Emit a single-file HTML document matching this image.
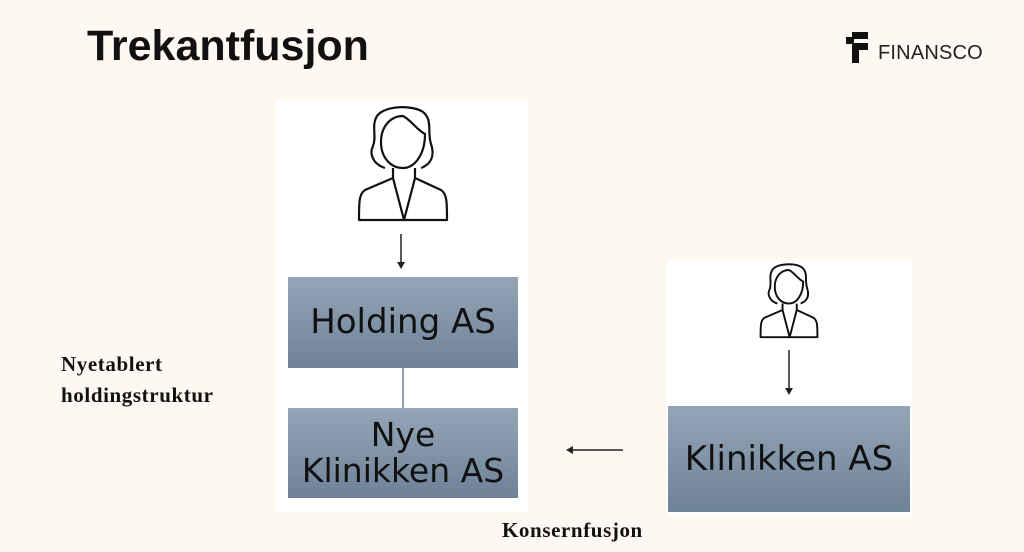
<!DOCTYPE html>
<html><head><meta charset="utf-8"><style>
body{margin:0;width:1024px;height:552px;background:#fdf9f2;position:relative;overflow:hidden;font-family:"Liberation Sans",sans-serif}
.a{position:absolute}
.box{position:absolute;background:linear-gradient(#95a5b7,#6e8298);color:#111;font-family:"DejaVu Sans","Liberation Sans",sans-serif;text-align:center;display:flex;align-items:center;justify-content:center;line-height:1.2}
.serif{font-family:"Liberation Serif",serif;font-weight:bold;color:#111;letter-spacing:0.6px}
</style></head><body>
<div class="a" style="left:87px;top:22px;font-size:43px;font-weight:bold;color:#111">Trekantfusjon</div>
<svg class="a" style="left:846px;top:32px" width="24" height="32" viewBox="0 0 24 32"><rect x="6" y="0" width="16" height="7" fill="#111"/><rect x="0" y="5" width="8" height="7" fill="#111"/><rect x="6" y="11" width="16" height="7" fill="#111"/><rect x="6" y="11" width="7" height="20" fill="#111"/></svg>
<div class="a" style="left:878px;top:42px;font-size:20px;color:#222;letter-spacing:0.2px">FINANSCO</div>

<div class="a" style="left:276px;top:100px;width:252px;height:412px;background:#fff"></div>
<div class="a" style="left:667px;top:260px;width:245px;height:256px;background:#fff"></div>

<svg class="a" style="left:355px;top:106px" width="96" height="116" viewBox="0 0 96 116" fill="none" stroke="#111" stroke-width="2.2" stroke-linejoin="round">
<path d="M30 62 C18 58 14 48 18 40 C22 30 16 20 22 10 C30 -1 58 -1 68 6 C78 14 72 26 76 38 C80 50 76 58 66 62"/>
<path d="M26 36 C26 20 36 10 48 10 C56 14 62 24 70 28 C70 48 60 62 48 62 C36 62 26 52 26 36Z"/>
<path d="M38 62 L38 72 L10 84 C4 88 4 96 4 114 L92 114 C92 96 92 88 86 84 L60 72 L60 62"/>
<path d="M38 72 L49 114 L60 72"/>
</svg>
<svg class="a" style="left:758px;top:262px" width="62" height="78" viewBox="0 0 96 116" fill="none" stroke="#111" stroke-width="3" stroke-linejoin="round">
<path d="M30 62 C18 58 14 48 18 40 C22 30 16 20 22 10 C30 -1 58 -1 68 6 C78 14 72 26 76 38 C80 50 76 58 66 62"/>
<path d="M26 36 C26 20 36 10 48 10 C56 14 62 24 70 28 C70 48 60 62 48 62 C36 62 26 52 26 36Z"/>
<path d="M38 62 L38 72 L10 84 C4 88 4 96 4 114 L92 114 C92 96 92 88 86 84 L60 72 L60 62"/>
<path d="M38 72 L49 114 L60 72"/>
</svg>

<svg class="a" style="left:0;top:0" width="1024" height="552">
<line x1="401" y1="234" x2="401" y2="264" stroke="#222" stroke-width="1.5"/><path d="M397 262 L401 269 L405 262Z" fill="#222"/>
<line x1="403" y1="368" x2="403" y2="408" stroke="#6e8298" stroke-width="1.5"/>
<line x1="789" y1="350" x2="789" y2="390" stroke="#222" stroke-width="1.5"/><path d="M785 388 L789 395 L793 388Z" fill="#222"/>
<line x1="572" y1="450" x2="623" y2="450" stroke="#222" stroke-width="1.5"/><path d="M573 446 L566 450 L573 454Z" fill="#222"/>
</svg>

<div class="box" style="left:288px;top:277px;width:230px;height:91px;font-size:34px">Holding AS</div>
<div class="box" style="left:288px;top:408px;width:230px;height:90px;font-size:33px;line-height:1.08">Nye<br>Klinikken AS</div>
<div class="box" style="left:668px;top:406px;width:242px;height:106px;font-size:34px">Klinikken AS</div>

<div class="a serif" style="left:61px;top:349px;font-size:21px;line-height:31px">Nyetablert<br>holdingstruktur</div>
<div class="a serif" style="left:502px;top:518px;font-size:21px">Konsernfusjon</div>
</body></html>
